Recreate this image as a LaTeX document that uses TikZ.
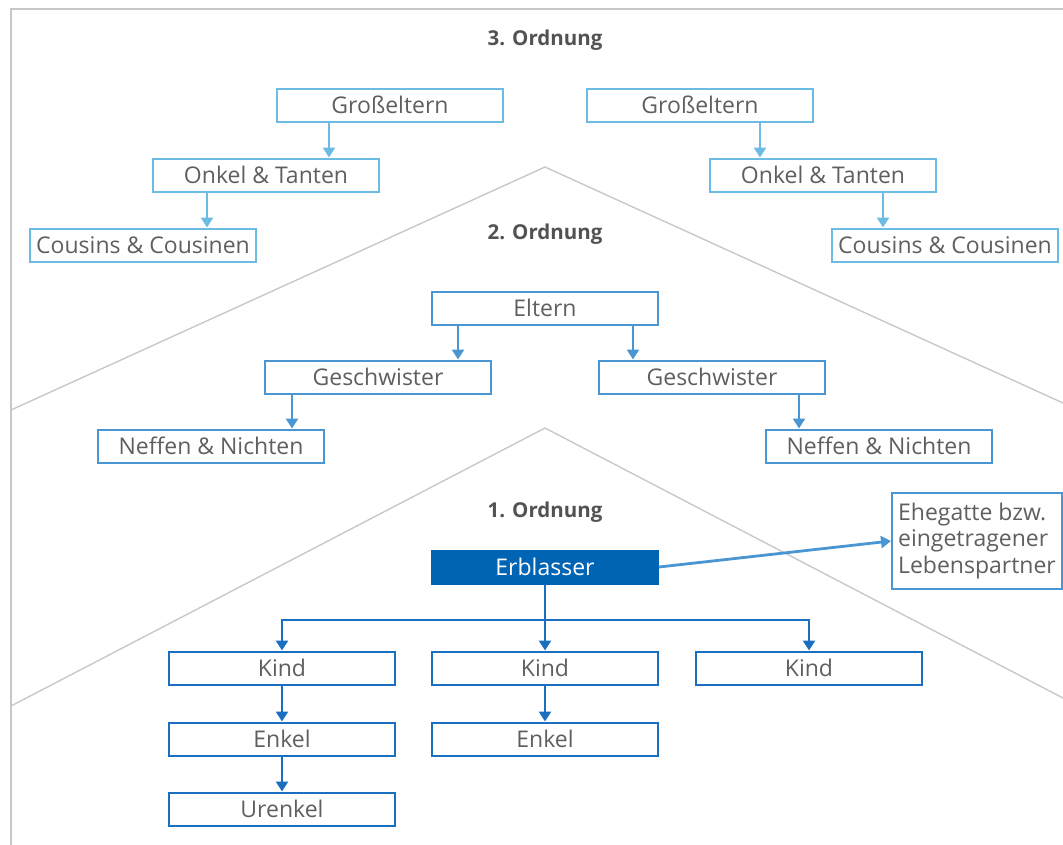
\documentclass[tikz,border=0pt]{standalone}
\usepackage{fontspec}
\setmainfont{Open Sans}
\usetikzlibrary{arrows.meta,positioning,calc}
\definecolor{thirdblue}{RGB}{107,187,227}
\definecolor{secondblue}{RGB}{74,150,210}
\definecolor{firstblue}{RGB}{26,111,192}
\definecolor{heirblue}{RGB}{0,100,180}
\definecolor{textgray}{RGB}{95,95,95}
\definecolor{roofgray}{RGB}{200,200,200}

\begin{document}
\begin{tikzpicture}[x=1pt, y=-1pt,
  box/.style={draw, line width=2pt, minimum width=226pt, minimum height=33pt, inner sep=0pt, font=\fontsize{23}{26.5}\selectfont, text=textgray},
  third/.style={box, draw=thirdblue},
  second/.style={box, draw=secondblue},
  first/.style={box, draw=firstblue},
  heading/.style={font=\fontsize{20.5}{24}\selectfont\bfseries, text=black!68},
  link/.style={-{Triangle[width=12pt,length=10pt]}, line width=2.8pt},
  roof/.style={draw=roofgray, line width=1.4pt}]

\useasboundingbox (0,0) rectangle (1063,844);

% frame and roofs
\draw[roofgray, line width=1.6pt] (11,860) -- (11,9) -- (1080,9);
\draw[roof] (11,410) -- (545,167) -- (1063,403);
\draw[roof] (11,706) -- (545,428) -- (1063,698);

% 3. Ordnung
\node[heading] (h3) at (545,40) {3. Ordnung};
\node[third] (gpL) at (390,105) {Großeltern};
\node[third] (onL) at (266,175) {Onkel \& Tanten};
\node[third] (coL) at (143,245) {Cousins \& Cousinen};
\node[third] (gpR) at (700,105) {Großeltern};
\node[third] (onR) at (823,175) {Onkel \& Tanten};
\node[third] (coR) at (945,245) {Cousins \& Cousinen};

\draw[link, thirdblue] ([xshift=-61pt]gpL.south) -- ([xshift=-61pt]gpL.south |- onL.north);
\draw[link, thirdblue] ([xshift=-59pt]onL.south) -- ([xshift=-59pt]onL.south |- coL.north);
\draw[link, thirdblue] ([xshift=60pt]gpR.south) -- ([xshift=60pt]gpR.south |- onR.north);
\draw[link, thirdblue] ([xshift=60pt]onR.south) -- ([xshift=60pt]onR.south |- coR.north);

% 2. Ordnung
\node[heading] (h2) at (545,234) {2. Ordnung};
\node[second] (parents) at (545,308) {Eltern};
\node[second] (sibL) at (378,377) {Geschwister};
\node[second] (sibR) at (712,377) {Geschwister};
\node[second] (nephL) at (211,446) {Neffen \& Nichten};
\node[second] (nephR) at (879,446) {Neffen \& Nichten};

\draw[link, secondblue] ([xshift=-87pt]parents.south) -- ([xshift=-87pt]parents.south |- sibL.north);
\draw[link, secondblue] ([xshift=88pt]parents.south) -- ([xshift=88pt]parents.south |- sibR.north);
\draw[link, secondblue] ([xshift=-86pt]sibL.south) -- ([xshift=-86pt]sibL.south |- nephL.north);
\draw[link, secondblue] ([xshift=87pt]sibR.south) -- ([xshift=87pt]sibR.south |- nephR.north);

% 1. Ordnung
\node[heading] (h1) at (545,512) {1. Ordnung};
\node[first, fill=heirblue, draw=heirblue, text=white] (erb) at (545,567) {Erblasser};
\node[box, draw=secondblue, minimum width=170pt, minimum height=96pt, align=left, inner xsep=5pt] (spouse) at (977,541) {Ehegatte bzw.\\eingetragener\\Lebenspartner};
\node[first] (kidL) at (282,668) {Kind};
\node[first] (kidM) at (545,668) {Kind};
\node[first] (kidR) at (809,668) {Kind};
\node[first] (grandL) at (282,739) {Enkel};
\node[first] (grandM) at (545,739) {Enkel};
\node[first] (ggrand) at (282,809) {Urenkel};

\coordinate (fork) at (545,620);
\draw[link, secondblue] (erb.east) -- (spouse.west);
\draw[firstblue, line width=2.8pt] (erb.south) -- (fork);
\draw[link, firstblue] (fork) -| (kidL.north);
\draw[link, firstblue] (fork) -- (kidM.north);
\draw[link, firstblue] (fork) -| (kidR.north);
\draw[link, firstblue] (kidL) -- (grandL);
\draw[link, firstblue] (grandL) -- (ggrand);
\draw[link, firstblue] (kidM) -- (grandM);

\end{tikzpicture}
\end{document}
